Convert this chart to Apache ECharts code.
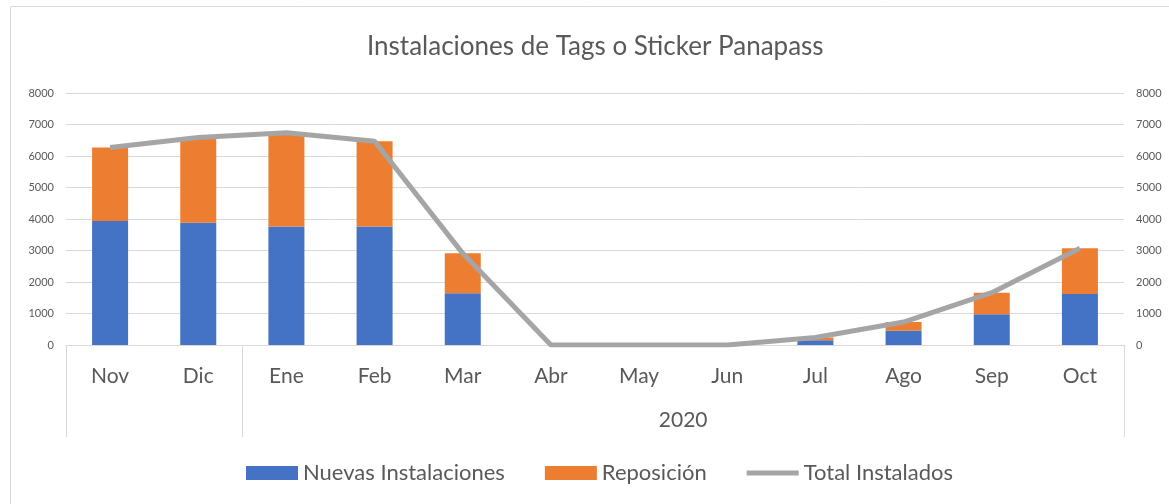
<!DOCTYPE html>
<html>
<head>
<meta charset="utf-8">
<title>Instalaciones de Tags o Sticker Panapass</title>
<script src="https://cdn.jsdelivr.net/npm/echarts@6/dist/echarts.min.js"></script>
<style>
    html, body { margin: 0; padding: 0; background: #fff; }
    #main { width: 1169px; height: 504px; }
</style>
</head>
<body>
<div id="main"></div>
<script>
// data
var meses = ['Nov', 'Dic', 'Ene', 'Feb', 'Mar', 'Abr', 'May', 'Jun', 'Jul', 'Ago', 'Sep', 'Oct'];
var nuevasInstalaciones = [3940, 3880, 3760, 3760, 1640, 0, 0, 0, 150, 450, 980, 1620];
var reposicion = [2330, 2710, 2980, 2710, 1270, 0, 0, 0, 90, 280, 680, 1450];
var totalInstalados = [6270, 6590, 6740, 6470, 2910, 0, 0, 0, 240, 730, 1660, 3070];
// second level of the category axis: [label, first index, index after last]
var grupos = [['', 0, 2], ['2020', 2, 12]];
var yTicks = [0, 1000, 2000, 3000, 4000, 5000, 6000, 7000, 8000];

var gris = '#595959';
var linea = '#D9D9D9';
var fuente = 'Lato';

var myChart = echarts.init(document.getElementById('main'), null, { renderer: 'canvas' });

// group boundaries get the long separator ticks, group centers get the labels
var bordes = grupos.map(function(g) { return g[1]; });
var centrosGrupo = {};
grupos.forEach(function(g) { centrosGrupo[(g[1] + g[2]) / 2] = g[0]; });

function ejeY(pos) {
    return {
        type: 'value',
        position: pos,
        min: yTicks[0],
        max: yTicks[yTicks.length - 1],
        interval: yTicks[1] - yTicks[0],
        axisLine: { show: false },
        axisTick: { show: false },
        splitLine: { show: pos === 'left', lineStyle: { color: linea, width: 1 } },
        axisLabel: {
            color: gris, fontSize: 11, fontFamily: fuente, margin: 12,
            formatter: function(v) { return String(v); }
        }
    };
}

var option = {
    backgroundColor: '#fff',
    textStyle: { fontFamily: fuente },
    title: {
        text: 'Instalaciones de Tags o Sticker Panapass',
        left: 362,
        top: 29,
        textStyle: { color: gris, fontSize: 26, fontWeight: 'normal', fontFamily: fuente }
    },
    graphic: [{
        type: 'rect',
        shape: { x: 10.5, y: 6.5, width: 1300, height: 700 },
        style: { fill: 'none', stroke: linea, lineWidth: 1 },
        silent: true
    }],
    legend: {
        left: 241,
        top: 457,
        itemWidth: 52,
        itemHeight: 14,
        itemGap: 40,
        textStyle: { color: gris, fontSize: 22, fontFamily: fuente },
        data: [
            { name: 'Nuevas Instalaciones', icon: 'rect' },
            { name: 'Reposición', icon: 'rect' },
            { name: 'Total Instalados', icon: 'path://M0,0H52V5H0Z' }
        ]
    },
    grid: {
        left: 66,
        right: 45,
        top: 93,
        bottom: 159,
        outerBoundsMode: 'none'
    },
    xAxis: [{
        type: 'category',
        data: meses,
        axisLine: { show: true, lineStyle: { color: linea, width: 1 } },
        axisTick: {
            show: true,
            length: 92,
            lineStyle: { color: linea, width: 1 },
            interval: function(index) { return bordes.indexOf(index) >= 0; }
        },
        axisLabel: { color: gris, fontSize: 21, fontFamily: fuente, margin: 21, interval: 0 }
    }, {
        type: 'value',
        position: 'bottom',
        offset: 57,
        min: 0,
        max: meses.length,
        interval: 1,
        axisLine: { show: false },
        axisTick: { show: false },
        splitLine: { show: false },
        axisLabel: {
            color: gris, fontSize: 21, fontFamily: fuente, margin: 8,
            formatter: function(v) { return centrosGrupo[v] || ''; }
        }
    }],
    yAxis: [ejeY('left'), ejeY('right')],
    series: [{
        name: 'Nuevas Instalaciones',
        type: 'bar',
        stack: 'total',
        barWidth: 36,
        itemStyle: { color: '#4472C4' },
        data: nuevasInstalaciones
    }, {
        name: 'Reposición',
        type: 'bar',
        stack: 'total',
        barWidth: 36,
        itemStyle: { color: '#ED7D31' },
        data: reposicion
    }, {
        name: 'Total Instalados',
        type: 'line',
        yAxisIndex: 1,
        symbol: 'none',
        lineStyle: { color: '#A5A5A5', width: 5 },
        itemStyle: { color: '#A5A5A5' },
        data: totalInstalados
    }]
};

myChart.setOption(option);
</script>
</body>
</html>
